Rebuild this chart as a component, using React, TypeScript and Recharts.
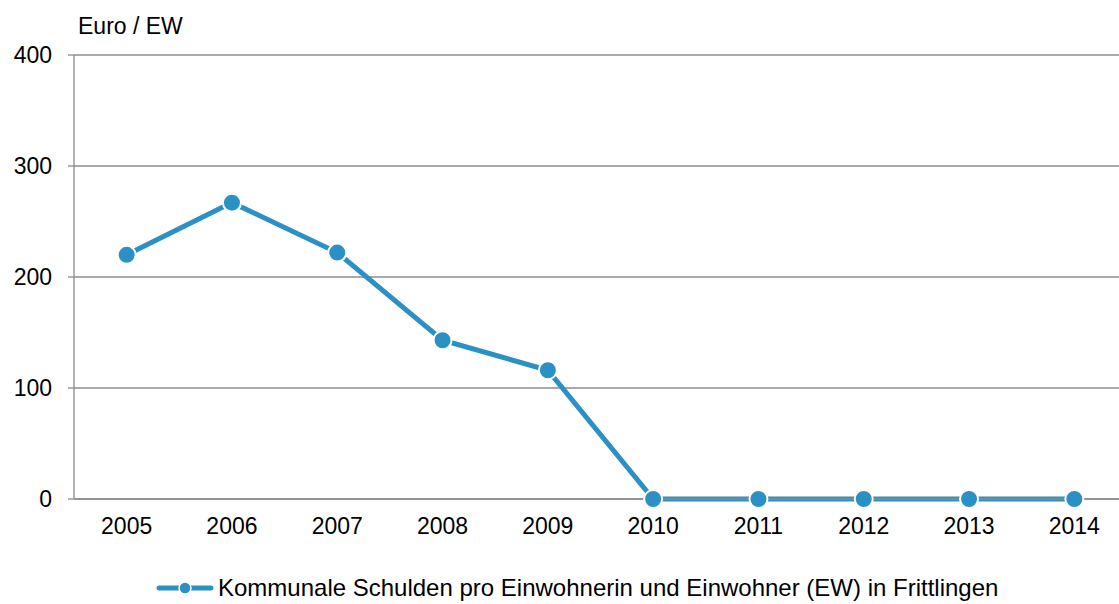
import { CartesianGrid, Legend, Line, LineChart, XAxis, YAxis } from 'recharts';

const years = ['2005', '2006', '2007', '2008', '2009', '2010', '2011', '2012', '2013', '2014'];
const debtPerResident = [220, 267, 222, 143, 116, 0, 0, 0, 0, 0];
const yTicks = [0, 100, 200, 300, 400];

const seriesName = 'Kommunale Schulden pro Einwohnerin und Einwohner (EW) in Frittlingen';
const blue = '#2b91c4';
const gray = '#8c8c8c';
const font = '"Liberation Sans", Arial, sans-serif';
const fontSize = 23;

// x positions at category centers, boundary ticks at integers
const data = years.map((year, i) => ({ pos: i + 0.5, year, value: debtPerResident[i] }));
const boundaryTicks = years.map((_, i) => i).concat(years.length);
const centerTicks = years.map((_, i) => i + 0.5);

const LegendContent = () => (
  <div
    style={{
      display: 'flex',
      alignItems: 'center',
      fontFamily: font,
      fontSize: 24,
      color: '#000',
      paddingLeft: 156,
      paddingTop: 20,
      lineHeight: '26px',
    }}
  >
    <svg width={58} height={20} style={{ marginRight: 4 }}>
      <line x1={3} y1={10} x2={55} y2={10} stroke={blue} strokeWidth={5} strokeLinecap='round' />
      <circle cx={29} cy={10} r={6} fill={blue} stroke='#fff' strokeWidth={1.5} />
    </svg>
    <span>{seriesName}</span>
  </div>
);

const App = () => {
  return (
    <div
      style={{
        position: 'absolute',
        left: 0,
        top: 0,
        width: 1119,
        height: 604,
        overflow: 'hidden',
        background: '#fff',
      }}
    >
      <div
        style={{
          position: 'absolute',
          left: 78,
          top: 13,
          fontFamily: font,
          fontSize,
          color: '#000',
        }}
      >
        Euro / EW
      </div>
      <LineChart
        width={1127}
        height={604}
        data={data}
        margin={{ top: 55, right: 0, bottom: 0, left: 0 }}
      >
        <CartesianGrid vertical={false} stroke={gray} strokeWidth={1.3} />
        <XAxis
          xAxisId='bounds'
          dataKey='pos'
          type='number'
          domain={[0, years.length]}
          ticks={boundaryTicks}
          tick={false}
          height={6}
          tickSize={6}
          axisLine={{ stroke: gray, strokeWidth: 1.3 }}
          tickLine={{ stroke: gray, strokeWidth: 1.3 }}
        />
        <XAxis
          xAxisId='labels'
          dataKey='pos'
          type='number'
          domain={[0, years.length]}
          ticks={centerTicks}
          tickFormatter={(v: number) => years[Math.round(v - 0.5)]}
          height={50}
          tickSize={0}
          tickMargin={13}
          axisLine={false}
          tickLine={false}
          tick={{ fill: '#000', fontSize, fontFamily: font }}
          interval={0}
        />
        <YAxis
          domain={[0, 400]}
          ticks={yTicks}
          width={74}
          tickSize={6}
          tickMargin={16}
          axisLine={{ stroke: gray, strokeWidth: 1.3 }}
          tickLine={{ stroke: gray, strokeWidth: 1.3 }}
          tick={{ fill: '#000', fontSize, fontFamily: font }}
        />
        <Legend verticalAlign='bottom' height={49} content={<LegendContent />} />
        <Line
          xAxisId='bounds'
          dataKey='value'
          name={seriesName}
          stroke={blue}
          strokeWidth={5}
          dot={{ r: 9, fill: blue, stroke: '#fff', strokeWidth: 2 }}
          activeDot={false}
          isAnimationActive={false}
        />
      </LineChart>
    </div>
  );
};

export default App;
